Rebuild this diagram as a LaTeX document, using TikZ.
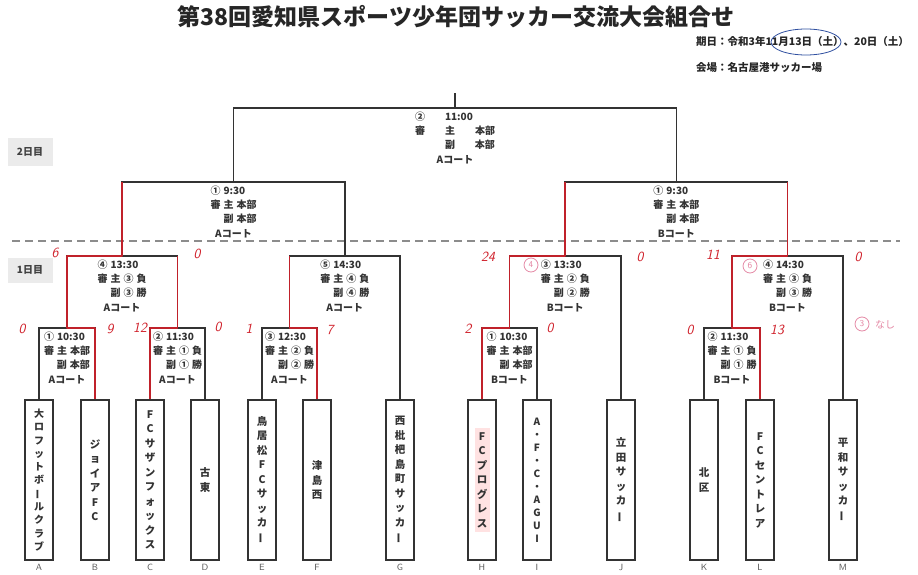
\documentclass[tikz,border=0pt]{standalone}
\usepackage{fontspec}
\newfontfamily\jp{Noto Sans CJK JP}
\definecolor{linec}{HTML}{333333}
\definecolor{txtc}{HTML}{333333}
\definecolor{redc}{HTML}{D0202A}
\definecolor{pinkc}{HTML}{E58AA6}
\definecolor{bluec}{HTML}{3050A0}
\newlength{\mtsp}
\setlength{\mtsp}{3pt}
\newcommand{\mblk}[5]{\begin{tabular}{@{}l@{}}#1\hspace{\mtsp}#2\\審\hspace{\mtsp}主\hspace{\mtsp}#3\\\hfill 副\hspace{\mtsp}#4\\\multicolumn{1}{@{}c@{}}{#5コート}\end{tabular}}
\newcommand{\rn}[2]{#1\hspace{\mtsp}#2}
\newcommand{\vchoon}{\rotatebox[origin=c]{90}{ー}}
\begin{document}
\begin{tikzpicture}[x=1pt,y=-1pt,
  ln/.style={draw=linec,line width=1.8pt},
  team/.style={draw=linec,line width=1.6pt,minimum width=28pt,minimum height=160pt,inner sep=0pt,align=center,font=\jp\bfseries\fontsize{10.5}{14.5}\selectfont,text=txtc},
  mt/.style={anchor=north,inner sep=0pt,font=\jp\bfseries\fontsize{10}{14.3}\selectfont,text=txtc},
  lett/.style={anchor=north,inner sep=0pt,font=\sffamily\fontsize{9}{9}\selectfont,text=black!65},
  win/.style={draw=redc,line width=1.8pt,line join=round,opacity=0.9},
  sc/.style={text=redc,inner sep=0pt,font=\sffamily\itshape\fontsize{14}{14}\selectfont},
  pk/.style={draw=pinkc,circle,line width=0.8pt,minimum size=14pt,inner sep=0pt,text=pinkc,font=\sffamily\fontsize{9}{9}\selectfont},
  daybox/.style={fill=black!8,minimum width=45pt,inner sep=0pt,font=\jp\bfseries\fontsize{10}{10}\selectfont,text=black!75}
]
\useasboundingbox (0,0) rectangle (918,575);
\fill[white] (0,0) rectangle (918,575);

% title and info
\node[font=\jp\bfseries\fontsize{23}{23}\selectfont,text=black!85,inner sep=0pt] (title) at (456,17) {第38回愛知県スポーツ少年団サッカー交流大会組合せ};
\node[anchor=west,inner sep=0pt,font=\jp\bfseries\fontsize{10.5}{10.5}\selectfont,text=black!85] (date) at (696,42) {期日：令和3年11月13日（土）、20日（土）};
\node[anchor=west,inner sep=0pt,font=\jp\bfseries\fontsize{10.5}{10.5}\selectfont,text=black!85] (venue) at (696,68) {会場：名古屋港サッカー場};
\draw[bluec,line width=0.8pt] (806,42) ellipse [x radius=35pt,y radius=13pt];

% day labels and divider
\node[daybox,minimum height=28pt] (d2) at (30,152) {2日目};
\node[daybox,minimum height=25pt] (d1) at (30,270) {1日目};
\draw[black!45,line width=1.6pt,dash pattern=on 8pt off 5pt] (12,241) -- (900,241);

% highlight
\fill[pink!45] (475,428) rectangle (490,532);

% teams
\node[team,font=\jp\bfseries\fontsize{10}{13.3}\selectfont] (A) at (39,480) {大\\ロ\\フ\\ッ\\ト\\ボ\\\vchoon\\ル\\ク\\ラ\\ブ};
\node[team] (B) at (95,480) {ジ\\ョ\\イ\\ア\\F\\C};
\node[team] (C) at (150,480) {F\\C\\サ\\ザ\\ン\\フ\\ォ\\ッ\\ク\\ス};
\node[team] (D) at (205,480) {古\\東};
\node[team] (E) at (262,480) {鳥\\居\\松\\F\\C\\サ\\ッ\\カ\\\vchoon};
\node[team] (F) at (317,480) {津\\島\\西};
\node[team] (G) at (400,480) {西\\枇\\杷\\島\\町\\サ\\ッ\\カ\\\vchoon};
\node[team] (H) at (482,480) {F\\C\\プ\\ロ\\グ\\レ\\ス};
\node[team,font=\jp\bfseries\fontsize{10}{13}\selectfont] (I) at (537,480) {A\\・\\F\\・\\C\\・\\A\\G\\U\\I};
\node[team] (J) at (621,480) {立\\田\\サ\\ッ\\カ\\\vchoon};
\node[team] (K) at (704,480) {北\\区};
\node[team] (L) at (760,480) {F\\C\\セ\\ン\\ト\\レ\\ア};
\node[team] (M) at (843,480) {平\\和\\サ\\ッ\\カ\\\vchoon};

\foreach \t in {A,B,C,D,E,F,G,H,I,J,K,L,M}
  \node[lett] (l\t) at ([yshift=-3pt]\t.south) {\t};

% bracket junctions
\coordinate (m1) at (67,328);
\coordinate (m2) at (177.5,328);
\coordinate (m3) at (289.5,328);
\coordinate (m4) at (122,256);
\coordinate (m5) at (344.75,256);
\coordinate (sL) at (233.5,182);
\coordinate (n1) at (509.5,328);
\coordinate (n2) at (732,328);
\coordinate (n3) at (565.25,256);
\coordinate (n4) at (787.5,256);
\coordinate (sR) at (676.4,182);
\coordinate (fin) at (455,108);
\coordinate (top) at (455,93);

\draw[ln] (A.north) |- (m1) -| (B.north);
\draw[ln] (C.north) |- (m2) -| (D.north);
\draw[ln] (E.north) |- (m3) -| (F.north);
\draw[ln] (m1) |- (m4) -| (m2);
\draw[ln] (m3) |- (m5) -| (G.north);
\draw[ln] (m4) |- (sL) -| (m5);
\draw[ln] (H.north) |- (n1) -| (I.north);
\draw[ln] (K.north) |- (n2) -| (L.north);
\draw[ln] (n1) |- (n3) -| (J.north);
\draw[ln] (n2) |- (n4) -| (M.north);
\draw[ln] (n3) |- (sR) -| (n4);
\draw[ln] (sL) |- (fin) -| (sR);
\draw[ln] (fin) -- (top);

% match texts
\node[mt] (tm1) at ([yshift=-2pt]m1) {\mblk{①}{10:30}{本部}{本部}{A}};
\node[mt] (tm2) at ([yshift=-2pt]m2) {\mblk{②}{11:30}{\rn{①}{負}}{\rn{①}{勝}}{A}};
\node[mt] (tm3) at ([yshift=-2pt]m3) {\mblk{③}{12:30}{\rn{②}{負}}{\rn{②}{勝}}{A}};
\node[mt] (tm4) at ([yshift=-2pt]m4) {\mblk{④}{13:30}{\rn{③}{負}}{\rn{③}{勝}}{A}};
\node[mt] (tm5) at ([yshift=-2pt]m5) {\mblk{⑤}{14:30}{\rn{④}{負}}{\rn{④}{勝}}{A}};
\node[mt] (tn1) at ([yshift=-2pt]n1) {\mblk{①}{10:30}{本部}{本部}{B}};
\node[mt] (tn2) at ([yshift=-2pt]n2) {\mblk{②}{11:30}{\rn{①}{負}}{\rn{①}{勝}}{B}};
\node[mt] (tn3) at ([yshift=-2pt]n3) {\mblk{③}{13:30}{\rn{②}{負}}{\rn{②}{勝}}{B}};
\node[mt] (tn4) at ([yshift=-2pt]n4) {\mblk{④}{14:30}{\rn{③}{負}}{\rn{③}{勝}}{B}};
\node[mt] (tsL) at ([yshift=-2pt]sL) {\mblk{①}{9:30}{本部}{本部}{A}};
\node[mt] (tsR) at ([yshift=-2pt]sR) {\mblk{①}{9:30}{本部}{本部}{B}};
\node[mt] (tfin) at ([yshift=-2pt]fin) {\setlength{\mtsp}{20pt}\mblk{②}{11:00}{本部}{本部}{A}};

% red winner marks
\draw[win] (B.north) |- (m1) |- (m4) -- (m4|-sL);
\draw[win] (C.north) |- (m2) -- (m2|-m4);
\draw[win] (F.north) |- (m3) -- (m3|-m5);
\draw[win] (H.north) |- (n1) |- (n3) -- (n3|-sR);
\draw[win] (L.north) |- (n2) |- (n4) -- (n4|-sR);

% scores
\node[sc] (s1) at (55,253) {6};
\node[sc] (s2) at (197,254) {0};
\node[sc] (s3) at (22,329) {0};
\node[sc] (s4) at (110,329) {9};
\node[sc] (s5) at (140,328) {12};
\node[sc] (s6) at (218,327) {0};
\node[sc] (s7) at (249,329) {1};
\node[sc] (s8) at (330,330) {7};
\node[sc] (s9) at (488,257) {24};
\node[sc] (s10) at (640,257) {0};
\node[sc] (s11) at (713,255) {11};
\node[sc] (s12) at (858,257) {0};
\node[sc] (s13) at (468,329) {2};
\node[sc] (s14) at (550,328) {0};
\node[sc] (s15) at (690,330) {0};
\node[sc] (s16) at (777,330) {13};

% pink notes
\node[pk] (p1) at (531,265) {4};
\node[pk] (p2) at (750,266) {6};
\node[pk] (p3) at (862,324) {3};
\node[inner sep=0pt,text=pinkc,font=\jp\fontsize{10}{10}\selectfont] (p4) at (885,325) {なし};
\end{tikzpicture}
\end{document}
